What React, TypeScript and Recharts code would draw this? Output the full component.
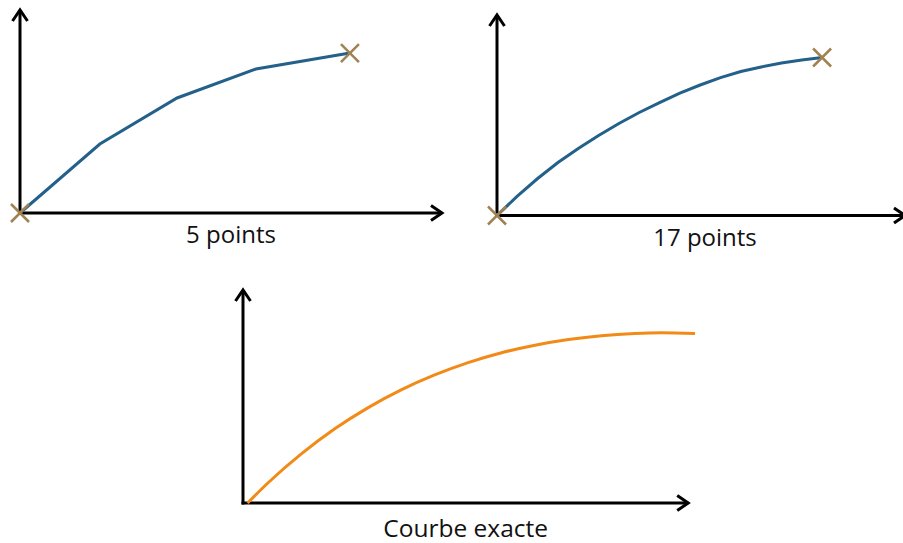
import { LineChart, Line, XAxis, YAxis, ReferenceLine } from 'recharts';

// sampled approximations of the same curve
const fivePointsX = [0, 0.242, 0.476, 0.715, 1];
const fivePointsY = [0, 0.431, 0.719, 0.9, 1];

const seventeenPointsX = [
  0, 0.0625, 0.125, 0.1875, 0.25, 0.3125, 0.375, 0.4375, 0.5, 0.5625, 0.625, 0.6875, 0.75, 0.8125,
  0.875, 0.9375, 1,
];
const seventeenPointsY = [
  0, 0.123, 0.234, 0.335, 0.424, 0.506, 0.582, 0.652, 0.715, 0.775, 0.826, 0.873, 0.911, 0.94,
  0.965, 0.984, 1,
];

// exact curve
const exactX = [0.01, 0.055, 0.129, 0.203, 0.277, 0.351, 0.424, 0.498, 0.572, 0.646, 0.72, 0.793, 0.867, 0.926, 1];
const exactY = [0, 0.117, 0.287, 0.434, 0.558, 0.663, 0.749, 0.821, 0.879, 0.923, 0.956, 0.979, 0.992, 0.996, 0.992];

const panelLabels = ['5 points', '17 points', 'Courbe exacte'];

const toRows = (xs: number[], ys: number[]) => xs.map((x, i) => ({ x, y: ys[i] }));

const BLUE = '#23608a';
const ORANGE = '#f28a18';
const CROSS = '#a08253';
const FONT = '"Open Sans", sans-serif';

function ArrowAxis(props: any) {
  const { x1, y1, x2, y2 } = props;
  const len = Math.hypot(x2 - x1, y2 - y1) || 1;
  const ux = (x2 - x1) / len;
  const uy = (y2 - y1) / len;
  const head = 11;
  const half = 7.5;
  const a = `${x2 - ux * head - uy * half},${y2 - uy * head + ux * half}`;
  const b = `${x2 - ux * head + uy * half},${y2 - uy * head - ux * half}`;
  return (
    <g>
      <line x1={x1 - ux * 1.5} y1={y1 - uy * 1.5} x2={x2} y2={y2} stroke="#000" strokeWidth={3} />
      <polyline points={`${a} ${x2},${y2} ${b}`} fill="none" stroke="#000" strokeWidth={3} />
    </g>
  );
}

const makeCrossDot = (count: number) => (props: any) => {
  const { cx, cy, index } = props;
  if (index !== 0 && index !== count - 1) return <g key={`d${index}`} />;
  const s = 9;
  return (
    <path
      key={`d${index}`}
      d={`M${cx - s},${cy - s}L${cx + s},${cy + s}M${cx - s},${cy + s}L${cx + s},${cy - s}`}
      stroke={CROSS}
      strokeWidth={2.5}
    />
  );
};

const makeLabel = (text: string, size: number, dy: number, dx: number) => (props: any) => {
  const vb = props.viewBox;
  return (
    <text
      x={vb.x + vb.width / 2 + dx}
      y={vb.y + dy}
      textAnchor="middle"
      fontFamily={FONT}
      fontSize={size}
      fill="#111"
    >
      {text}
    </text>
  );
};

interface PanelProps {
  data: { x: number; y: number }[];
  margin: { top: number; right: number; bottom: number; left: number };
  xMax: number;
  yMax: number;
  xTip: number;
  yTip: number;
  color: string;
  curve: 'linear' | 'monotone';
  crosses: boolean;
  label: string;
  labelSize: number;
  labelDy: number;
  labelDx: number;
}

function Panel({ data, margin, xMax, yMax, xTip, yTip, color, curve, crosses, label, labelSize, labelDy, labelDx }: PanelProps) {
  return (
    <div style={{ position: 'absolute', left: 0, top: 0 }}>
      <LineChart width={910} height={543} data={data} margin={margin}>
        <XAxis type="number" dataKey="x" domain={[0, xMax]} hide />
        <YAxis type="number" domain={[0, yMax]} hide />
        <ReferenceLine segment={[{ x: 0, y: 0 }, { x: 0, y: yTip }]} shape={ArrowAxis} />
        <ReferenceLine
          segment={[{ x: 0, y: 0 }, { x: xTip, y: 0 }]}
          shape={ArrowAxis}
          label={makeLabel(label, labelSize, labelDy, labelDx)}
        />
        <Line
          type={curve}
          dataKey="y"
          stroke={color}
          strokeWidth={3}
          dot={crosses ? makeCrossDot(data.length) : false}
          activeDot={false}
          isAnimationActive={false}
        />
      </LineChart>
    </div>
  );
}

export default function App() {
  return (
    <div
      style={{
        position: 'absolute',
        left: 0,
        top: 0,
        width: 903,
        height: 543,
        overflow: 'hidden',
        background: '#fff',
      }}
    >
      <Panel
        data={toRows(fivePointsX, fivePointsY)}
        margin={{ top: 10, left: 20, right: 468, bottom: 330 }}
        xMax={1.279}
        yMax={1.269}
        xTip={1.279}
        yTip={1.269}
        color={BLUE}
        curve="linear"
        crosses
        label={panelLabels[0]}
        labelSize={24}
        labelDy={30}
        labelDx={0}
      />
      <Panel
        data={toRows(seventeenPointsX, seventeenPointsY)}
        margin={{ top: 15, left: 497, right: 5, bottom: 327.5 }}
        xMax={1.255}
        yMax={1.269}
        xTip={1.255}
        yTip={1.269}
        color={BLUE}
        curve="linear"
        crosses
        label={panelLabels[1]}
        labelSize={24}
        labelDy={30}
        labelDx={4}
      />
      <Panel
        data={toRows(exactX, exactY)}
        margin={{ top: 290, left: 243, right: 215, bottom: 40 }}
        xMax={1}
        yMax={1.246}
        xTip={0.985}
        yTip={1.246}
        color={ORANGE}
        curve="monotone"
        crosses={false}
        label={panelLabels[2]}
        labelSize={24.5}
        labelDy={33.5}
        labelDx={0}
      />
    </div>
  );
}
